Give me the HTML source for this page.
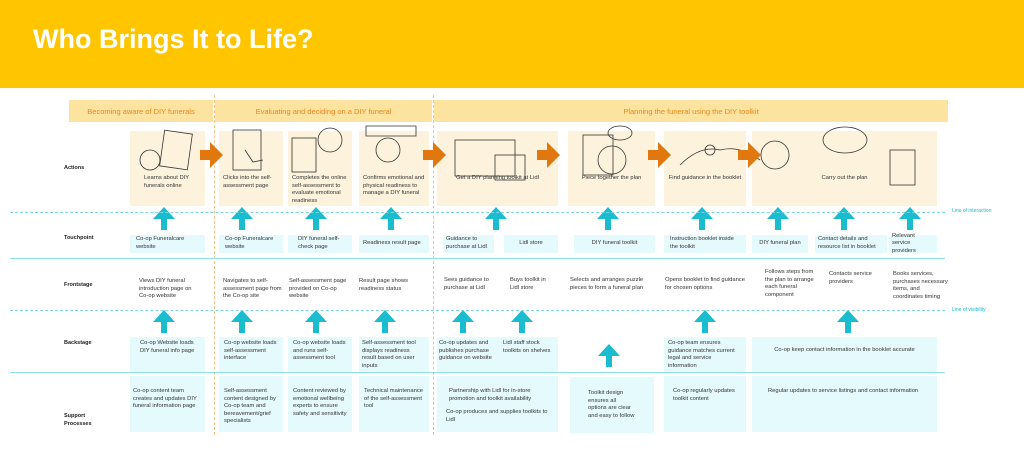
<!DOCTYPE html>
<html><head><meta charset="utf-8"><style>
*{margin:0;padding:0;box-sizing:border-box}
body{width:1024px;height:454px;background:#fff;position:relative;overflow:hidden;font-family:"Liberation Sans",sans-serif}
.a{position:absolute}
.hdr{left:0;top:0;width:1024px;height:88px;background:#FFC600}
.title{left:33px;top:24px;color:#fff;font-size:27px;font-weight:bold}
.ph{background:#FCE3A0;color:#E8891A;font-size:7.5px;display:flex;align-items:center;justify-content:center;top:100px;height:22px}
.act{background:#FDF3DD;top:131px;height:75px;font-size:5.8px;color:#333;line-height:7.6px;padding:44px 4px 0 4px}
.tp{background:#E5FAFD;top:235px;height:18px;font-size:5.8px;color:#333;line-height:7.6px;display:flex;align-items:center;padding:0 6px}
.fs{top:278px;font-size:5.8px;color:#333;line-height:7.6px}
.bs{background:#E5FAFD;top:337px;height:35px;font-size:5.8px;color:#333;line-height:7.6px;padding:3px 5px}
.sp{background:#E5FAFD;top:376px;height:56px;font-size:5.8px;color:#333;line-height:7.6px;padding:12px 5px}
.lbl{left:64px;font-size:5.5px;font-weight:bold;color:#222}
.dl{height:0;border-top:1px dashed #7fd6e2;left:10px;width:935px}
.sl{height:1px;background:#8fdfe9;left:10px;width:935px}
.vl{width:0;border-left:1px dashed #f5c18a;top:95px;height:340px}
.ll{font-size:5px;color:#1ABCCF;left:952px}
</style></head><body>
<div class="a hdr"></div>
<div class="a title">Who Brings It to Life?</div>

<div class="a ph" style="left:69px;width:144px">Becoming aware of DIY funerals</div>
<div class="a ph" style="left:215px;width:217px">Evaluating and deciding on a DIY funeral</div>
<div class="a ph" style="left:434px;width:514px">Planning the funeral using the DIY toolkit</div>

<div class="a vl" style="left:214px"></div>
<div class="a vl" style="left:433px"></div>

<div class="a lbl" style="top:165px">Actions</div>
<div class="a lbl" style="top:235px">Touchpoint</div>
<div class="a lbl" style="top:282px">Frontstage</div>
<div class="a lbl" style="top:340px">Backstage</div>
<div class="a lbl" style="top:412px;line-height:8px">Support<br>Processes</div>

<div class="a act" style="left:130px;width:75px;padding-left:14px">Learns about DIY funerals online</div>
<div class="a act" style="left:219px;width:64px">Clicks into the self-assessment page</div>
<div class="a act" style="left:288px;width:64px">Completes the online self-assessment to evaluate emotional readiness</div>
<div class="a act" style="left:359px;width:70px">Confirms emotional and physical readiness to manage a DIY funeral</div>
<div class="a act" style="left:437px;width:121px;text-align:center">Get a DIY planning toolkit at Lidl</div>
<div class="a act" style="left:568px;width:87px;text-align:center">Piece together the plan</div>
<div class="a act" style="left:664px;width:82px;text-align:center">Find guidance in the booklet</div>
<div class="a act" style="left:752px;width:185px;text-align:center">Carry out the plan</div>

<svg class="a" style="left:0;top:0" width="1024" height="454">
<g fill="none" stroke="#333" stroke-width="0.8">
<rect x="162" y="132" width="28" height="36" transform="rotate(8 176 150)"/><circle cx="150" cy="160" r="10"/>
<rect x="233" y="130" width="28" height="40"/><path d="M245 150 l8 12 l10 -2"/>
<rect x="292" y="138" width="24" height="34"/><circle cx="330" cy="140" r="12"/>
<circle cx="388" cy="150" r="12"/><path d="M366 126 h50 v10 h-50z"/>
<rect x="455" y="140" width="60" height="36"/><rect x="495" y="155" width="30" height="25"/>
<rect x="583" y="135" width="30" height="40"/><circle cx="612" cy="160" r="14"/><ellipse cx="620" cy="133" rx="12" ry="7"/>
<path d="M680 165 q20 -20 40 -15 q20 -5 40 10"/><circle cx="710" cy="150" r="5"/>
<circle cx="775" cy="155" r="14"/><ellipse cx="845" cy="140" rx="22" ry="13"/><rect x="890" y="150" width="25" height="35"/>
</g>
<g fill="#E0780F">
<path d="M200 150h10v-8l13 13-13 13v-8h-10z"/>
<path d="M423 150h10v-8l13 13-13 13v-8h-10z"/>
<path d="M537 150h10v-8l13 13-13 13v-8h-10z"/>
<path d="M648 150h10v-8l13 13-13 13v-8h-10z"/>
<path d="M738 150h10v-8l13 13-13 13v-8h-10z"/>
</g>
<g fill="#1ABCCF">
<path d="M161 230v-11h-8l11-12 11 12h-8v11z"/>
<path d="M239 230v-11h-8l11-12 11 12h-8v11z"/>
<path d="M313 230v-11h-8l11-12 11 12h-8v11z"/>
<path d="M388 230v-11h-8l11-12 11 12h-8v11z"/>
<path d="M493 230v-11h-8l11-12 11 12h-8v11z"/>
<path d="M605 230v-11h-8l11-12 11 12h-8v11z"/>
<path d="M699 230v-11h-8l11-12 11 12h-8v11z"/>
<path d="M775 230v-11h-8l11-12 11 12h-8v11z"/>
<path d="M841 230v-11h-8l11-12 11 12h-8v11z"/>
<path d="M907 230v-11h-8l11-12 11 12h-8v11z"/>

<path d="M161 333v-11h-8l11-12 11 12h-8v11z"/>
<path d="M239 333v-11h-8l11-12 11 12h-8v11z"/>
<path d="M313 333v-11h-8l11-12 11 12h-8v11z"/>
<path d="M382 333v-11h-8l11-12 11 12h-8v11z"/>
<path d="M460 333v-11h-8l11-12 11 12h-8v11z"/>
<path d="M519 333v-11h-8l11-12 11 12h-8v11z"/>
<path d="M606 367v-11h-8l11-12 11 12h-8v11z"/>
<path d="M702 333v-11h-8l11-12 11 12h-8v11z"/>
<path d="M845 333v-11h-8l11-12 11 12h-8v11z"/>
</g>
</svg>

<div class="a dl" style="top:212px"></div>
<div class="a ll" style="top:208px">Line of interaction</div>

<div class="a tp" style="left:130px;width:75px">Co-op Funeralcare website</div>
<div class="a tp" style="left:219px;width:64px">Co-op Funeralcare website</div>
<div class="a tp" style="left:288px;width:64px;padding-left:10px">DIY funeral self-check page</div>
<div class="a tp" style="left:359px;width:70px;padding-left:4px">Readiness result page</div>
<div class="a tp" style="left:443px;width:51px;padding-left:3px">Guidance to purchase at Lidl</div>
<div class="a tp" style="left:504px;width:54px;justify-content:center">Lidl store</div>
<div class="a tp" style="left:574px;width:81px;justify-content:center">DIY funeral toolkit</div>
<div class="a tp" style="left:664px;width:82px">Instruction booklet inside the toolkit</div>
<div class="a tp" style="left:752px;width:56px;justify-content:center">DIY funeral plan</div>
<div class="a tp" style="left:815px;width:72px;padding-left:3px">Contact details and resource list in booklet</div>
<div class="a tp" style="left:889px;width:48px;padding-left:3px">Relevant service providers</div>

<div class="a sl" style="top:258px"></div>

<div class="a fs" style="left:139px;width:62px">Views DIY funeral introduction page on Co-op website</div>
<div class="a fs" style="left:223px;width:60px">Navigates to self-assessment page from the Co-op site</div>
<div class="a fs" style="left:289px;width:60px">Self-assessment page provided on Co-op website</div>
<div class="a fs" style="left:359px;width:60px">Result page shows readiness status</div>
<div class="a fs" style="left:444px;width:50px;top:277px">Sees guidance to purchase at Lidl</div>
<div class="a fs" style="left:510px;width:40px;top:277px">Buys toolkit in Lidl store</div>
<div class="a fs" style="left:570px;width:85px;top:277px">Selects and arranges puzzle pieces to form a funeral plan</div>
<div class="a fs" style="left:665px;width:80px;top:277px">Opens booklet to find guidance for chosen options</div>
<div class="a fs" style="left:765px;width:50px;top:269px">Follows steps from the plan to arrange each funeral component</div>
<div class="a fs" style="left:829px;width:50px;top:271px">Contacts service providers</div>
<div class="a fs" style="left:893px;width:56px;top:271px">Books services, purchases necessary items, and coordinates timing</div>

<div class="a dl" style="top:310px"></div>
<div class="a ll" style="top:307px">Line of visibility</div>

<div class="a bs" style="left:130px;width:75px;padding-left:10px">Co-op Website loads DIY funeral info page</div>
<div class="a bs" style="left:219px;width:64px">Co-op website loads self-assessment interface</div>
<div class="a bs" style="left:288px;width:64px">Co-op website loads and runs self-assessment tool</div>
<div class="a bs" style="left:359px;width:70px;padding-left:3px">Self-assessment tool displays readiness result based on user inputs</div>
<div class="a bs" style="left:437px;width:61px;padding-left:2px">Co-op updates and publishes purchase guidance on website</div>
<div class="a bs" style="left:498px;width:60px;padding-left:5px">Lidl staff stock toolkits on shelves</div>
<div class="a bs" style="left:664px;width:82px;padding-left:4px">Co-op team ensures guidance matches current legal and service information</div>
<div class="a bs" style="left:752px;width:185px;text-align:center;padding-top:10px">Co-op keep contact information in the booklet accurate</div>

<div class="a sl" style="top:372px"></div>

<div class="a sp" style="left:130px;width:75px;padding-left:3px">Co-op content team creates and updates DIY funeral information page</div>
<div class="a sp" style="left:219px;width:64px">Self-assessment content designed by Co-op team and bereavement/grief specialists</div>
<div class="a sp" style="left:288px;width:64px">Content reviewed by emotional wellbeing experts to ensure safety and sensitivity</div>
<div class="a sp" style="left:359px;width:70px">Technical maintenance of the self-assessment tool</div>
<div class="a sp" style="left:437px;width:121px;padding:12px 6px 0 12px">Partnership with Lidl for in-store promotion and toolkit availability<br><span style="display:block;margin-top:6px;margin-left:-3px">Co-op produces and supplies toolkits to Lidl</span></div>
<div class="a sp" style="left:570px;width:84px;top:377px;padding:13px 18px">Toolkit design ensures all options are clear and easy to follow</div>
<div class="a sp" style="left:664px;width:82px;padding-left:9px">Co-op regularly updates toolkit content</div>
<div class="a sp" style="left:752px;width:185px;padding-left:16px">Regular updates to service listings and contact information</div>
</body></html>
